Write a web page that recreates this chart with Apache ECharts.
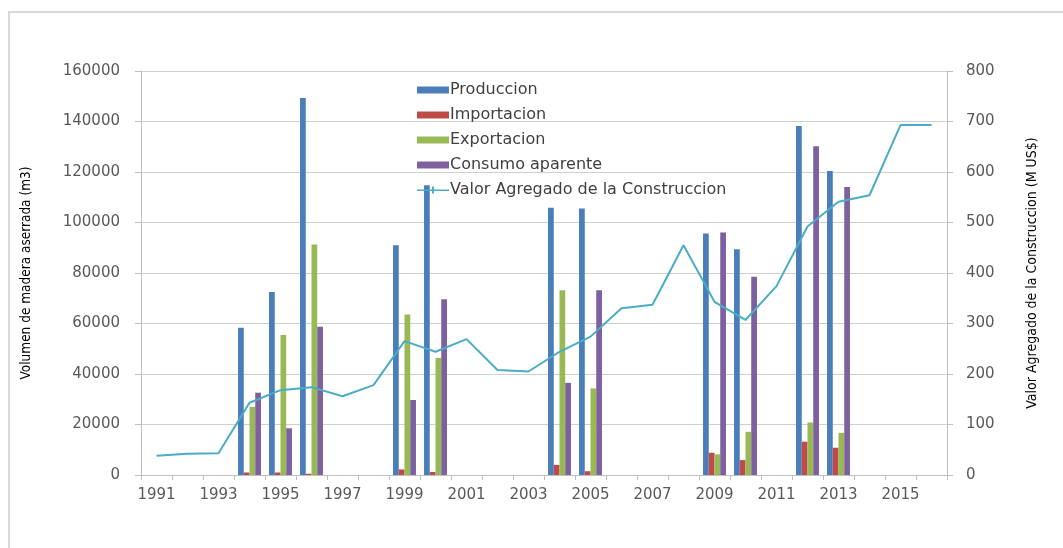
<!DOCTYPE html>
<html>
<head>
<meta charset="utf-8">
<script src="https://cdn.jsdelivr.net/npm/echarts@6/dist/echarts.min.js"></script>
<style>
  html, body { margin: 0; padding: 0; background: #ffffff; }
  #frame { position: absolute; left: 8px; top: 11px; width: 1100px; height: 600px;
           border-left: 2px solid #d9d9d9; border-top: 2px solid #d9d9d9; }
  #chart { position: absolute; left: 0; top: 0; width: 1063px; height: 548px; }
</style>
</head>
<body>
<div id="frame"></div>
<div id="chart"></div>
<script>
const years = ['1991','1992','1993','1994','1995','1996','1997','1998','1999','2000','2001','2002','2003',
               '2004','2005','2006','2007','2008','2009','2010','2011','2012','2013','2014','2015','2016'];
const produccion  = [null,null,null,58300,72500,149300,null,null,91000,114800,null,null,null,
                     105800,105500,null,null,null,95600,89400,null,138200,120400,null,null,null];
const importacion = [null,null,null,1000,1000,500,null,null,2200,1200,null,null,null,
                     4000,1500,null,null,null,8800,5900,null,13200,10800,null,null,null];
const exportacion = [null,null,null,27000,55400,91300,null,null,63600,46400,null,null,null,
                     73200,34300,null,null,null,8200,17100,null,20800,16700,null,null,null];
const consumo     = [null,null,null,32600,18500,58700,null,null,29700,69600,null,null,null,
                     36500,73200,null,null,null,96000,78500,null,130200,114100,null,null,null];
const valorAgregado = [38,42,43,143,168,174,156,178,265,244,269,208,205,
                       244,274,330,337,455,343,307,374,492,541,554,693,693];

const leftTicks = [0,20000,40000,60000,80000,100000,120000,140000,160000];
const rightTicks = [0,100,200,300,400,500,600,700,800];

const labelFont = 'DejaVu Sans';
const titleFont = "'Liberation Sans Narrow', 'DejaVu Sans Condensed', sans-serif";

const chart = echarts.init(document.getElementById('chart'), null, { renderer: 'canvas' });

const barBase = { type: 'bar', yAxisIndex: 0, barGap: '0%', barCategoryGap: '26%' };
const lineIcon = 'path://M0,3 L15,3 L15,0 L17,0 L17,3 L32,3 L32,4.6 L17,4.6 L17,7 L15,7 L15,4.6 L0,4.6 Z';

chart.setOption({
  animation: false,
  backgroundColor: 'transparent',
  grid: { left: 141, right: 116, top: 71, height: 404 },
  legend: {
    orient: 'vertical',
    left: 412,
    top: 77,
    itemWidth: 32,
    itemHeight: 7,
    itemGap: 9,
    textStyle: { fontFamily: labelFont, fontSize: 16, color: '#404040', padding: [0, 0, 0, -4] },
    data: [
      { name: 'Produccion', icon: 'rect' },
      { name: 'Importacion', icon: 'rect' },
      { name: 'Exportacion', icon: 'rect' },
      { name: 'Consumo aparente', icon: 'rect' },
      { name: 'Valor Agregado de la Construccion', icon: lineIcon }
    ]
  },
  xAxis: {
    type: 'category',
    data: years,
    boundaryGap: true,
    axisLine: { lineStyle: { color: '#bfbfbf', width: 1 } },
    axisTick: { show: true, interval: 0, length: 5, lineStyle: { color: '#bfbfbf' } },
    axisLabel: { interval: 1, margin: 13, fontFamily: labelFont, fontSize: 15, color: '#595959' }
  },
  yAxis: [
    {
      type: 'value',
      min: leftTicks[0], max: leftTicks[leftTicks.length - 1], interval: 20000,
      name: 'Volumen de madera aserrada (m3)',
      nameLocation: 'middle', nameGap: 108, nameRotate: 90,
      nameTextStyle: { fontFamily: titleFont, fontSize: 13.5, color: '#000000' },
      axisLine: { show: true, lineStyle: { color: '#bfbfbf' } },
      axisTick: { show: true, length: 6, lineStyle: { color: '#bfbfbf' } },
      axisLabel: { margin: 21, fontFamily: labelFont, fontSize: 15, color: '#595959',
                   formatter: function (v) { return String(v); } },
      splitLine: { show: true, lineStyle: { color: '#cfcfcf', width: 1 } }
    },
    {
      type: 'value',
      min: rightTicks[0], max: rightTicks[rightTicks.length - 1], interval: 100,
      name: 'Valor Agregado de la Construccion (M US$)',
      nameLocation: 'middle', nameGap: 78, nameRotate: 90,
      nameTextStyle: { fontFamily: titleFont, fontSize: 14, color: '#000000' },
      axisLine: { show: true, lineStyle: { color: '#bfbfbf' } },
      axisTick: { show: true, length: 6, lineStyle: { color: '#bfbfbf' } },
      axisLabel: { margin: 19, fontFamily: labelFont, fontSize: 15, color: '#595959',
                   formatter: function (v) { return String(v); } },
      splitLine: { show: false }
    }
  ],
  series: [
    Object.assign({}, barBase, { name: 'Produccion', data: produccion, itemStyle: { color: '#4A7EBB' } }),
    Object.assign({}, barBase, { name: 'Importacion', data: importacion, itemStyle: { color: '#BE4B48' } }),
    Object.assign({}, barBase, { name: 'Exportacion', data: exportacion, itemStyle: { color: '#98B954' } }),
    Object.assign({}, barBase, { name: 'Consumo aparente', data: consumo, itemStyle: { color: '#7D60A0' } }),
    {
      name: 'Valor Agregado de la Construccion',
      type: 'line',
      yAxisIndex: 1,
      data: valorAgregado,
      symbol: 'none',
      lineStyle: { color: '#4BACC6', width: 2 },
      itemStyle: { color: '#4BACC6' }
    }
  ]
});
</script>
</body>
</html>
